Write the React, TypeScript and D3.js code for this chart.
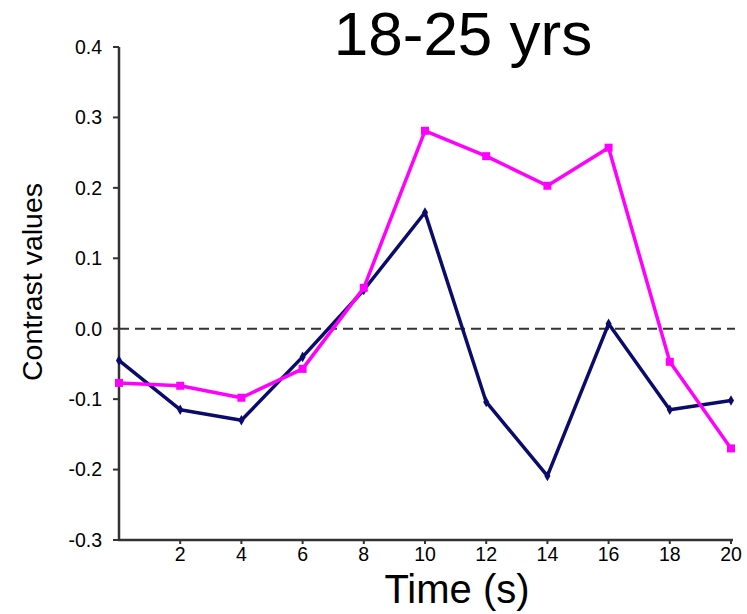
import React from 'react'
import * as d3 from 'd3'

const width = 747
const height = 614
const margin = { left: 119, right: 15, top: 47, bottom: 74 }

const times = [0, 2, 4, 6, 8, 10, 12, 14, 16, 18, 20]
const navyValues = [-0.045, -0.115, -0.13, -0.04, 0.055, 0.165, -0.104, -0.209, 0.007, -0.115, -0.102]
const magentaValues = [-0.077, -0.081, -0.098, -0.057, 0.058, 0.281, 0.245, 0.203, 0.257, -0.047, -0.17]
const xTicks = [2, 4, 6, 8, 10, 12, 14, 16, 18, 20]
const yTicks = [0.4, 0.3, 0.2, 0.1, 0.0, -0.1, -0.2, -0.3]

const font = '"Liberation Sans", Arial, sans-serif'
const axisColor = '#333'
const fmt = (v: number) => d3.format('.1f')(v).replace('\u2212', '-')

export default function App() {
  const x = d3.scaleLinear().domain([0, 20]).range([margin.left, width - margin.right - 1])
  const y = d3.scaleLinear().domain([-0.3, 0.4]).range([height - margin.bottom, margin.top])

  const line = d3.line<number>()
    .x((_, i) => x(times[i]))
    .y(d => y(d))

  const diamond = d3.symbol().type(d3.symbolDiamond).size(32)()

  return (
    <svg width={width} height={height} style={{ position: 'absolute', left: 0, top: 0, background: '#fff' }}>
      <text x={463} y={55} textAnchor="middle" fontFamily={font} fontSize={62}>18-25 yrs</text>

      {/* y axis */}
      <line x1={x(0)} x2={x(0)} y1={y(0.4)} y2={y(-0.3)} stroke={axisColor} strokeWidth={2.5} />
      {yTicks.map(t => (
        <g key={t}>
          <line x1={x(0) - 6} x2={x(0)} y1={y(t)} y2={y(t)} stroke={axisColor} strokeWidth={2} />
          <text x={x(0) - 17} y={y(t)} dy="0.35em" textAnchor="end" fontFamily={font} fontSize={19.5}>
            {fmt(t)}
          </text>
        </g>
      ))}
      <text transform={`translate(42,282) rotate(-90)`} textAnchor="middle" fontFamily={font} fontSize={28.5}>
        Contrast values
      </text>

      {/* x axis */}
      <line x1={x(0) - 1} x2={x(20) + 2} y1={y(-0.3)} y2={y(-0.3)} stroke={axisColor} strokeWidth={2.5} />
      {xTicks.map(t => (
        <g key={t}>
          <line x1={x(t)} x2={x(t)} y1={y(-0.3)} y2={y(-0.3) + 4} stroke={axisColor} strokeWidth={2} />
          <text x={x(t)} y={y(-0.3) + 21} textAnchor="middle" fontFamily={font} fontSize={19.5}>{t}</text>
        </g>
      ))}
      <text x={457} y={603} textAnchor="middle" fontFamily={font} fontSize={40}>Time (s)</text>

      {/* zero line */}
      <line x1={x(0)} x2={x(20) + 4} y1={y(0)} y2={y(0)} stroke={axisColor} strokeWidth={2} strokeDasharray="10,6" />

      {/* navy series */}
      <path d={line(navyValues) || ''} fill="none" stroke="#0b0b6b" strokeWidth={3.5} strokeLinejoin="round" />
      {navyValues.map((v, i) => (
        <path key={i} d={diamond || ''} transform={`translate(${x(times[i])},${y(v)})`} fill="#0b0b6b" />
      ))}

      {/* magenta series */}
      <path d={line(magentaValues) || ''} fill="none" stroke="#ff00ff" strokeWidth={3.5} strokeLinejoin="round" />
      {magentaValues.map((v, i) => (
        <rect key={i} x={x(times[i]) - 4} y={y(v) - 4} width={8} height={8} fill="#ff00ff" />
      ))}
    </svg>
  )
}
